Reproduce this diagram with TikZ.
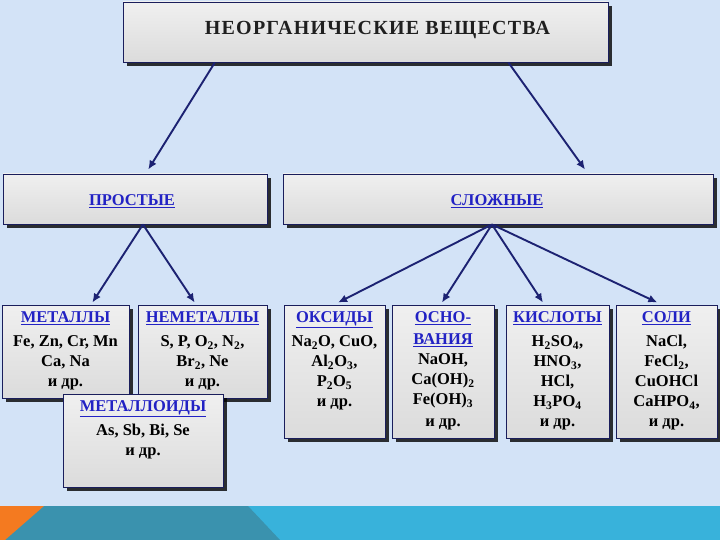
\documentclass[tikz,border=0pt]{standalone}
\usepackage{fontspec}
\setmainfont{Liberation Serif}
\usetikzlibrary{arrows.meta,shadows,calc}
\definecolor{bgc}{HTML}{D3E3F7}
\definecolor{tealc}{HTML}{3A92AE}
\definecolor{cyanc}{HTML}{38B2DB}
\definecolor{orangec}{HTML}{F47A20}
\definecolor{navy}{HTML}{1A1E5C}
\definecolor{arrc}{HTML}{1C2272}
\definecolor{hdrc}{HTML}{2222C4}
\newcommand{\hd}[1]{\textcolor{hdrc}{\underline{#1}}}
\newcommand{\sub}[1]{\textsubscript{#1}}
\begin{document}
\begin{tikzpicture}[x=1pt,y=-1pt,
  box/.style={draw=navy, line width=0.9pt, top color=white!94!black, bottom color=white!86!black,
    drop shadow={shadow xshift=4pt, shadow yshift=-4pt, opacity=0.8, fill=black}, inner sep=0pt},
  txt/.style={font=\fontsize{16.5}{20}\selectfont\bfseries, align=center, inner sep=0pt, anchor=north},
  hdr/.style={font=\fontsize{16.5}{20}\selectfont\bfseries},
  conn/.style={draw=arrc, line width=1.9pt, -{Latex[length=9pt,width=8pt]}}]
\useasboundingbox (0,0) rectangle (720,540);
\fill[bgc] (0,0) rectangle (720,506);
\fill[cyanc] (0,506) rectangle (720,540);
\fill[tealc] (44,506) -- (248,506) -- (280,540) -- (0,540) -- cycle;
\fill[orangec] (0,506) -- (44,506) -- (5,540) -- (0,540) -- cycle;

% boxes
\node[box, minimum width=485, minimum height=60] (top) at (365.5,32) {};
\node[font=\fontsize{20}{22}\selectfont\bfseries\addfontfeature{LetterSpace=6}, text=black!88] (ttl) at ($(top.center)+(12,-2)$) {НЕОРГАНИЧЕСКИЕ ВЕЩЕСТВА};

\node[box, minimum width=264, minimum height=50] (pr) at (135,199) {};
\node[hdr] (prt) at ($(pr.center)+(-3,2)$) {\hd{ПРОСТЫЕ}};

\node[box, minimum width=430, minimum height=50] (sl) at (498,199) {};
\node[hdr] (slt) at ($(sl.center)+(-1,2)$) {\hd{СЛОЖНЫЕ}};

\node[box, minimum width=127, minimum height=93] (met) at (65.5,351.5) {};
\node[txt] (mett) at ($(met.north)+(0,7)$) {\hd{МЕТАЛЛЫ}\\[4pt] Fe, Zn, Cr, Mn\\ Ca, Na\\ и др.};

\node[box, minimum width=129, minimum height=93] (nem) at (202.5,351.5) {};
\node[txt] (nemt) at ($(nem.north)+(0,7)$) {\hd{НЕМЕТАЛЛЫ}\\[4pt] S, P, O\sub{2}, N\sub{2},\\ Br\sub{2}, Ne\\ и др.};

\node[box, minimum width=160, minimum height=93] (mtd) at (143,440.5) {};
\node[txt] (mtdt) at ($(mtd.north)+(0,7)$) {\hd{МЕТАЛЛОИДЫ}\\[4pt] As, Sb, Bi, Se\\ и др.};

\node[box, minimum width=101, minimum height=133] (oks) at (334.5,371.5) {};
\node[txt] (okst) at ($(oks.north)+(0,7)$) {\hd{ОКСИДЫ}\\[4pt] Na\sub{2}O, CuO,\\ Al\sub{2}O\sub{3},\\ P\sub{2}O\sub{5}\\ и др.};

\node[box, minimum width=102, minimum height=133] (osn) at (443,371.5) {};
\node[txt] (osnt) at ($(osn.north)+(0,7)$) {\hd{ОСНО-}\\[2pt] \hd{ВАНИЯ}\\ NaOH,\\ Ca(OH)\sub{2}\\ Fe(OH)\sub{3}\\[2pt] и др.};

\node[box, minimum width=103, minimum height=133] (kis) at (557.5,371.5) {};
\node[txt] (kist) at ($(kis.north)+(0,7)$) {\hd{КИСЛОТЫ}\\[4pt] H\sub{2}SO\sub{4},\\ HNO\sub{3},\\ HCl,\\ H\sub{3}PO\sub{4}\\ и др.};

\node[box, minimum width=101, minimum height=133] (sol) at (666.5,371.5) {};
\node[txt] (solt) at ($(sol.north)+(0,7)$) {\hd{СОЛИ}\\[4pt] NaCl,\\ FeCl\sub{2},\\ CuOHCl\\ CaHPO\sub{4},\\ и др.};

% connectors
\draw[conn] ($(top.south west)!0.19!(top.south east)$) -- ($(pr.north west)!0.55!(pr.north east)+(0,-4)$);
\draw[conn] ($(top.south west)!0.794!(top.south east)$) -- ($(sl.north west)!0.702!(sl.north east)+(0,-4)$);
\draw[conn] ($(pr.south west)!0.53!(pr.south east)$) -- ($(met.north west)!0.71!(met.north east)+(0,-2)$);
\draw[conn] ($(pr.south west)!0.53!(pr.south east)$) -- ($(nem.north west)!0.44!(nem.north east)+(0,-2)$);
\draw[conn] ($(sl.south west)!0.486!(sl.south east)$) -- ($(oks.north west)!0.535!(oks.north east)+(0,-2)$);
\draw[conn] ($(sl.south west)!0.486!(sl.south east)$) -- ($(osn.north west)!0.49!(osn.north east)+(0,-2)$);
\draw[conn] ($(sl.south west)!0.486!(sl.south east)$) -- ($(kis.north west)!0.36!(kis.north east)+(0,-2)$);
\draw[conn] ($(sl.south west)!0.486!(sl.south east)$) -- ($(sol.north west)!0.41!(sol.north east)+(0,-2)$);
\end{tikzpicture}
\end{document}
